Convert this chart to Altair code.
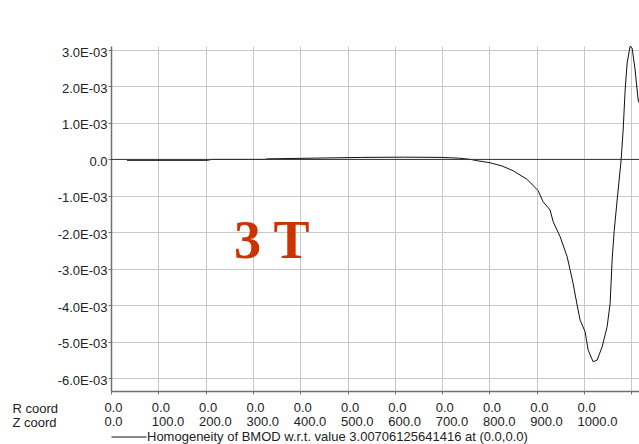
import altair as alt
import pandas as pd

# Position along the path (Z coord, mm); R coord stays 0.0 everywhere
z_coord = [33.8, 203.0, 213.5, 325.6, 330.0, 430.0, 530.0, 620.0, 700.0, 735.0,
           760.0, 774.0, 801.3, 826.6, 849.9, 879.5, 902.7, 913.3, 928.1, 934.5,
           949.3, 964.1, 976.7, 985.2, 991.5, 1002.1, 1008.5, 1019.0, 1027.5, 1038.1,
           1048.6, 1055.0, 1059.2, 1063.4, 1069.8, 1078.2, 1082.5, 1086.7, 1090.9, 1097.3,
           1101.5, 1107.8, 1114.2, 1116.3]

# Relative homogeneity of BMOD
homogeneity = [-0.025e-3, -0.025e-3, 0.0, 0.0, 0.015e-3, 0.035e-3, 0.055e-3, 0.062e-3, 0.055e-3, 0.035e-3,
               0.0, -0.036e-3, -0.091e-3, -0.181e-3, -0.310e-3, -0.546e-3, -0.858e-3, -1.160e-3, -1.387e-3, -1.708e-3,
               -2.119e-3, -2.667e-3, -3.399e-3, -3.994e-3, -4.405e-3, -4.726e-3, -5.227e-3, -5.548e-3, -5.502e-3, -5.137e-3,
               -4.589e-3, -3.945e-3, -2.758e-3, -1.981e-3, -1.113e-3, -0.016e-3, 0.806e-3, 1.903e-3, 2.643e-3, 3.109e-3,
               3.054e-3, 2.451e-3, 1.628e-3, 1.55e-3]

z_ticks = [0, 100, 200, 300, 400, 500, 600, 700, 800, 900, 1000, 1100]
h_ticks = [-6e-3, -5e-3, -4e-3, -3e-3, -2e-3, -1e-3, 0.0, 1e-3, 2e-3, 3e-3]

series_name = "Homogeneity of BMOD w.r.t. value 3.00706125641416 at (0.0,0.0)"
field_label = ["3 T"]
field_label_z = [340.0]
field_label_h = [-2.70e-3]

FONT = "Liberation Sans"
TEXT = "#222222"

curve = pd.DataFrame({"z": z_coord, "h": homogeneity, "series": series_name})
zero = pd.DataFrame({"h": [0.0]})
note = pd.DataFrame({"z": field_label_z, "h": field_label_h, "label": field_label})

x_scale = alt.Scale(domain=[0, 1116], nice=False, zero=False)
y_scale = alt.Scale(domain=[-6.35e-3, 3.11e-3], nice=False, zero=False)

x_axis = alt.Axis(
    values=z_ticks,
    grid=True, gridColor="#c8c8c8", gridWidth=1,
    domainColor="#707070", domainWidth=1.5,
    ticks=True, tickColor="#707070", tickSize=3,
    labelExpr="datum.value > 1050 ? '' : ['0.0', format(datum.value, '.1f')]",
    labelAlign="left", labelBaseline="alphabetic", labelOffset=-7,
    labelPadding=17, labelLineHeight=14,
    labelFont=FONT, labelFontSize=13, labelColor=TEXT,
    labelOverlap=False, labelFlush=False,
    title=["R coord", "Z coord"],
    titleX=-99, titleY=21, titleAlign="left", titleAnchor="start",
    titleBaseline="alphabetic", titleLineHeight=14,
    titleFont=FONT, titleFontSize=13, titleFontWeight="normal", titleColor=TEXT,
)

y_axis = alt.Axis(
    values=h_ticks,
    grid=True, gridColor="#c8c8c8", gridWidth=1,
    domainColor="#707070", domainWidth=1.5,
    ticks=True, tickColor="#707070", tickSize=3,
    labelExpr="datum.value == 0 ? '0.0' : (datum.value < 0 ? '-' : '') + format(abs(datum.value) * 1000, '.1f') + 'E-03'",
    labelPadding=1, labelOffset=2,
    labelFont=FONT, labelFontSize=13, labelColor=TEXT,
    labelOverlap=False, labelFlush=False,
    title=None,
)

x_enc = alt.X("z:Q", scale=x_scale, axis=x_axis)
y_enc = alt.Y("h:Q", scale=y_scale, axis=y_axis)

line = alt.Chart(curve).mark_line(strokeWidth=1, clip=True, interpolate="linear").encode(
    x=x_enc,
    y=y_enc,
    color=alt.Color(
        "series:N",
        scale=alt.Scale(range=["#111111"]),
        legend=alt.Legend(
            title=None, orient="none", legendX=0, legendY=373,
            symbolType="stroke", symbolSize=1225, symbolStrokeWidth=1,
            labelFont=FONT, labelFontSize=13, labelColor=TEXT,
            labelOffset=0, labelLimit=0, padding=0,
        ),
    ),
)

zero_line = alt.Chart(zero).mark_rule(color="#333333", strokeWidth=1).encode(y=y_enc)

label = alt.Chart(note).mark_text(
    font="Liberation Serif", fontWeight="bold", fontSize=54,
    color="#cc3300", align="center", baseline="alphabetic",
).encode(x=x_enc, y=y_enc, text="label:N")

chart = alt.layer(line, zero_line, label).properties(
    width=528, height=345,
    autosize=alt.AutoSizeParams(type="none"),
    padding={"left": 111, "top": 46, "right": 0, "bottom": 53},
    background="white",
).configure_view(stroke=None)

chart.save("out.html", embed_options={"renderer": "svg", "actions": False})
